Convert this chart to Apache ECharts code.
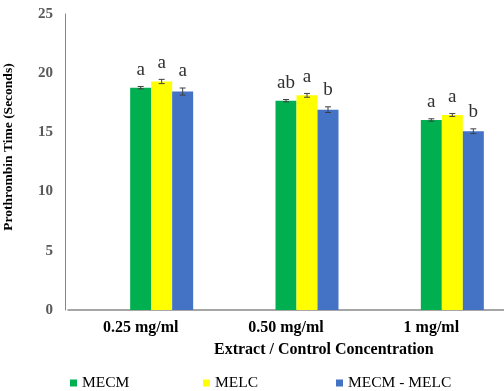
<!DOCTYPE html>
<html><head><meta charset="utf-8">
<script src="https://cdn.jsdelivr.net/npm/echarts@6/dist/echarts.min.js"></script>
<style>html,body{margin:0;padding:0;background:#fff}#c{width:504px;height:391px}</style>
</head><body><div id="c"></div>
<script>
const categories = ['0.25 mg/ml', '0.50 mg/ml', '1 mg/ml'];
const seriesNames = ['MECM', 'MELC', 'MECM - MELC'];
const mecm = [18.78, 17.68, 16.05];
const melc = [19.3, 18.13, 16.47];
const mecmMelc = [18.45, 16.92, 15.1];
const mecmErr = [0.1, 0.1, 0.1];
const melcErr = [0.18, 0.16, 0.12];
const mecmMelcErr = [0.3, 0.24, 0.2];
const mecmLetters = ['a', 'ab', 'a'];
const melcLetters = ['a', 'a', 'a'];
const mecmMelcLetters = ['a', 'b', 'b'];
const yTicks = [0, 5, 10, 15, 20, 25];
const xTitle = 'Extract / Control Concentration';
const yTitle = 'Prothrombin Time (Seconds)';

const colors = ['#00B050', '#FFFF00', '#4472C4'];
const values = [mecm, melc, mecmMelc];
const errs = [mecmErr, melcErr, mecmMelcErr];
const letters = [mecmLetters, melcLetters, mecmMelcLetters];
const BAR_W = 21;
const SERIF = '"Liberation Serif", "Times New Roman", serif';
const legendLefts = [65, 198, 331];

const errData = [];
const errLetters = [];
values.forEach((arr, s) => arr.forEach((v, i) => {
  errData.push([i, s, v, errs[s][i]]);
  errLetters.push(letters[s][i]);
}));

const chart = echarts.init(document.getElementById('c'), null, {renderer: 'canvas'});
const barSeries = [
  {name: '_gap1', type: 'bar', data: categories.map(() => null), barWidth: BAR_W, barGap: '0%'},
  {name: '_gap2', type: 'bar', data: categories.map(() => null), barWidth: BAR_W, barGap: '0%'}
].concat(seriesNames.map((n, s) => ({
  name: n, type: 'bar', data: values[s], barWidth: BAR_W, barGap: '0%',
  itemStyle: {color: colors[s]}, emphasis: {disabled: true}
})));

chart.setOption({
  animation: false,
  color: colors,
  grid: {left: 68, top: 14, width: 450, height: 296, containLabel: false},
  legend: seriesNames.map((n, s) => ({
    data: [{name: n, itemStyle: {color: colors[s]}}],
    left: legendLefts[s], top: 370, itemWidth: 7, itemHeight: 7, icon: 'rect',
    selectedMode: false,
    textStyle: {fontFamily: SERIF, fontSize: 15.5, color: '#000'}
  })),
  xAxis: {
    type: 'category', data: categories,
    axisLine: {lineStyle: {color: '#898989', width: 1.5}},
    axisTick: {show: false},
    axisLabel: {fontFamily: SERIF, fontWeight: 'bold', fontSize: 16, color: '#000', margin: 10}
  },
  yAxis: {
    type: 'value', min: yTicks[0], max: yTicks[yTicks.length - 1], interval: yTicks[1] - yTicks[0],
    offset: 3,
    axisLine: {show: true, lineStyle: {color: '#868686', width: 1}},
    axisTick: {show: false},
    splitLine: {show: false},
    axisLabel: {fontFamily: SERIF, fontWeight: 'bold', fontSize: 15, color: '#595959', margin: 12}
  },
  graphic: [
    {type: 'text', left: 214, top: 342, style: {text: xTitle, fontFamily: SERIF, fontWeight: 'bold', fontSize: 16, fill: '#000'}},
    {type: 'text', x: 9, y: 147, rotation: Math.PI / 2,
     style: {text: yTitle, fontFamily: SERIF, fontWeight: 'bold', fontSize: 13.5, fill: '#000', align: 'center', verticalAlign: 'middle'}}
  ],
  series: barSeries.concat([{
    type: 'custom', data: errData, z: 10, clip: false,
    encode: {x: 0, y: 2},
    renderItem: function (params, api) {
      const cat = api.value(0), slot = api.value(1), v = api.value(2), e = api.value(3);
      const off = slot * BAR_W;
      const top = api.coord([cat, v + e]);
      const bot = api.coord([cat, v - e]);
      const x = top[0] + off;
      const cap = 3;
      const ls = {stroke: '#404040', lineWidth: 1};
      return {type: 'group', children: [
        {type: 'line', shape: {x1: x, y1: top[1], x2: x, y2: bot[1]}, style: ls},
        {type: 'line', shape: {x1: x - cap, y1: top[1], x2: x + cap, y2: top[1]}, style: ls},
        {type: 'line', shape: {x1: x - cap, y1: bot[1], x2: x + cap, y2: bot[1]}, style: ls},
        {type: 'text', x: x, y: top[1] - 7, style: {
          text: errLetters[params.dataIndex], fontFamily: SERIF, fontSize: 19, fill: '#303030',
          align: 'center', verticalAlign: 'bottom'}}
      ]};
    }
  }])
});
</script></body></html>
